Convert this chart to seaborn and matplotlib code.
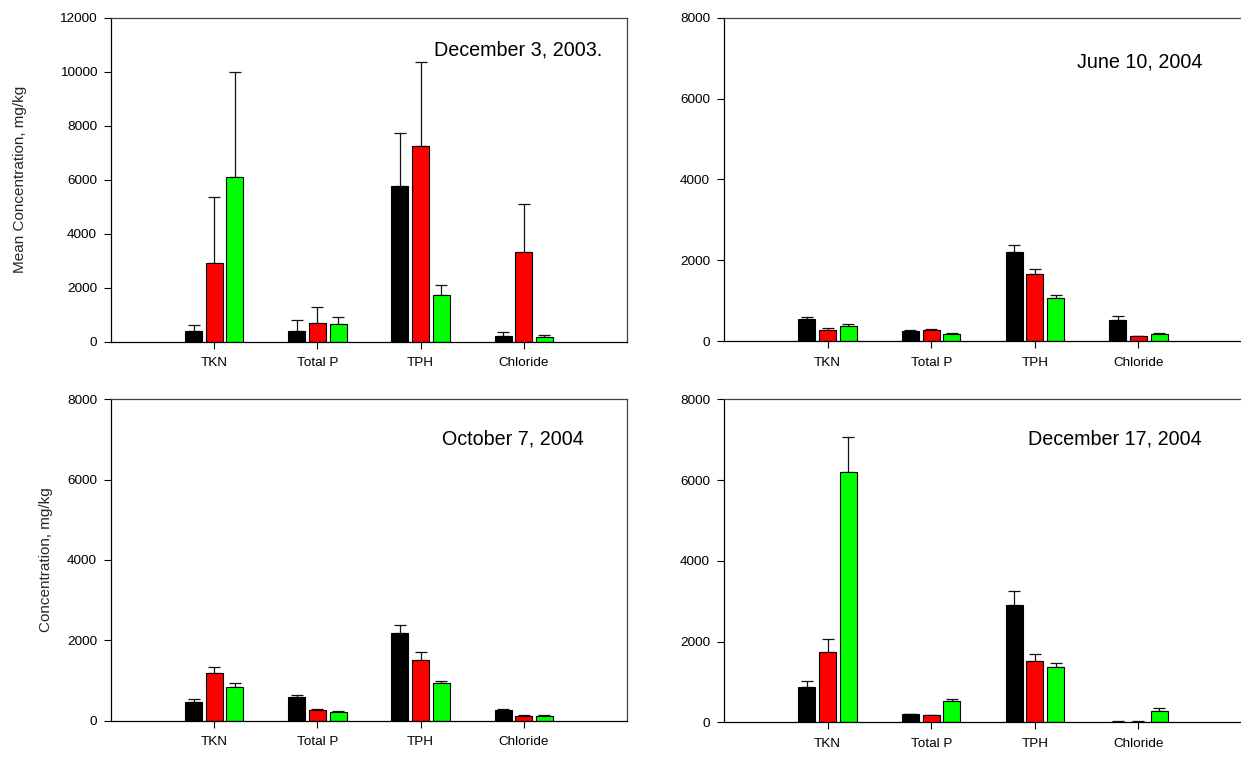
import numpy as np
import pandas as pd
import seaborn as sns
import matplotlib
matplotlib.use("Agg")
import matplotlib.pyplot as plt

# Analytes on the x axis
analytes = ["TKN", "Total P", "TPH", "Chloride"]
groups = ["Group 1", "Group 2", "Group 3"]
colors = ["#000000", "#ff0000", "#00ff00"]

# Sampling dates (panel annotations)
dates = ["December 3, 2003.", "June 10, 2004", "October 7, 2004", "December 17, 2004"]

# December 3, 2003 – means and upper error (mg/kg)
dec03_g1 = [400, 390, 5750, 220]
dec03_g2 = [2930, 680, 7235, 3330]
dec03_g3 = [6100, 665, 1715, 160]
dec03_e1 = [205, 425, 1965, 125]
dec03_e2 = [2420, 590, 3110, 1755]
dec03_e3 = [3885, 260, 395, 75]

# June 10, 2004
jun04_g1 = [555, 255, 2215, 530]
jun04_g2 = [272, 272, 1670, 124]
jun04_g3 = [372, 182, 1065, 182]
jun04_e1 = [40, 16, 175, 85]
jun04_e2 = [50, 25, 115, 16]
jun04_e3 = [57, 16, 75, 16]

# October 7, 2004
oct04_g1 = [473, 589, 2191, 266]
oct04_g2 = [1178, 274, 1519, 124]
oct04_g3 = [830, 216, 946, 116]
oct04_e1 = [58, 42, 200, 16]
oct04_e2 = [150, 16, 182, 17]
oct04_e3 = [108, 16, 33, 17]

# December 17, 2004
dec04_g1 = [876, 198, 2917, 17]
dec04_g2 = [1752, 182, 1512, 17]
dec04_g3 = [6190, 537, 1364, 289]
dec04_e1 = [150, 17, 330, 8]
dec04_e2 = [322, 8, 174, 8]
dec04_e3 = [876, 50, 115, 75]

y_ticks_dec03 = [0, 2000, 4000, 6000, 8000, 10000, 12000]
y_ticks_other = [0, 2000, 4000, 6000, 8000]

sns.set_style("ticks")
plt.rcParams["font.family"] = ["Liberation Sans", "DejaVu Sans"]

fig = plt.figure(figsize=(12.41, 7.61), dpi=100)
W, H = 1241.0, 761.0


def add_axes(left, top, right, bottom):
    return fig.add_axes([left / W, 1 - bottom / H, (right - left) / W, (bottom - top) / H])


panels = [
    dict(box=(111, 17.7, 627, 341.7), means=(dec03_g1, dec03_g2, dec03_g3),
         errs=(dec03_e1, dec03_e2, dec03_e3), ticks=y_ticks_dec03,
         date=dates[0], dpos=(0.952, 0.90), ylabel="Mean Concentration, mg/kg",
         lx=-0.163, right=True),
    dict(box=(724, 17.7, 1242, 341.3), means=(jun04_g1, jun04_g2, jun04_g3),
         errs=(jun04_e1, jun04_e2, jun04_e3), ticks=y_ticks_other,
         date=dates[1], dpos=(0.923, 0.862), ylabel=None, lx=None, right=False),
    dict(box=(111, 399.3, 627, 720.7), means=(oct04_g1, oct04_g2, oct04_g3),
         errs=(oct04_e1, oct04_e2, oct04_e3), ticks=y_ticks_other,
         date=dates[2], dpos=(0.917, 0.875), ylabel="Concentration, mg/kg",
         lx=-0.113, right=True),
    dict(box=(724, 399.3, 1242, 722.3), means=(dec04_g1, dec04_g2, dec04_g3),
         errs=(dec04_e1, dec04_e2, dec04_e3), ticks=y_ticks_other,
         date=dates[3], dpos=(0.923, 0.876), ylabel=None, lx=None, right=False),
]

for p in panels:
    ax = add_axes(*p["box"])
    df = pd.DataFrame({
        "analyte": analytes * 3,
        "group": np.repeat(groups, len(analytes)),
        "value": np.concatenate(p["means"]),
    })
    sns.barplot(data=df, x="analyte", y="value", hue="group", order=analytes,
                hue_order=groups, palette=colors, width=0.6, gap=0.18,
                edgecolor="black", linewidth=0.8, errorbar=None, legend=False,
                saturation=1, ax=ax, zorder=2)
    # upper-only error bars with caps, positioned on the drawn bars
    for cont, err in zip(ax.containers, p["errs"]):
        xs = [b.get_x() + b.get_width() / 2 for b in cont]
        hs = [b.get_height() for b in cont]
        ax.errorbar(xs, hs, yerr=[np.zeros(len(err)), err], fmt="none",
                    ecolor="#111111", elinewidth=0.9, capsize=4, capthick=0.9,
                    zorder=1)
    ax.set_xlim(-1, 4)
    ax.set_ylim(p["ticks"][0], p["ticks"][-1])
    ax.set_yticks(p["ticks"])
    ax.set_xlabel("")
    ax.set_ylabel(p["ylabel"] or "", fontsize=11)
    if p["lx"] is not None:
        ax.yaxis.set_label_coords(p["lx"], 0.5)
    ax.tick_params(axis="both", direction="out", length=5, width=0.8,
                   labelsize=9.7, colors="black", pad=5)
    ax.tick_params(axis="x", pad=6)
    for side in ["left", "bottom"]:
        ax.spines[side].set_color("black")
        ax.spines[side].set_linewidth(0.9)
    ax.spines["top"].set_visible(True)
    ax.spines["top"].set_color("#444444")
    ax.spines["top"].set_linewidth(0.9)
    ax.spines["right"].set_visible(p["right"])
    ax.spines["right"].set_color("#444444")
    ax.spines["right"].set_linewidth(0.9)
    ax.text(p["dpos"][0], p["dpos"][1], p["date"], transform=ax.transAxes,
            ha="right", va="center", fontsize=14.2, color="black")

fig.savefig("out.png", dpi=100)
